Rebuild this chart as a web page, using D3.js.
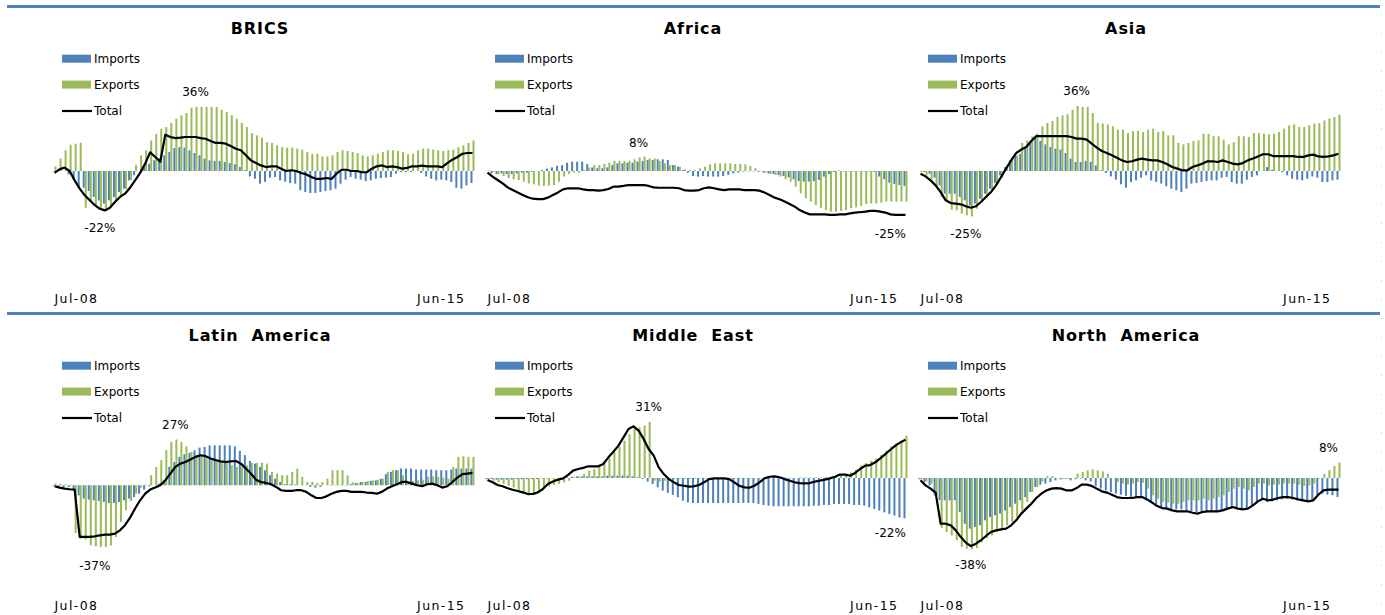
<!DOCTYPE html>
<html>
<head>
<meta charset="utf-8">
<script src="https://cdn.jsdelivr.net/npm/d3@7"></script>
<style>
  body { margin: 0; background: #fff; }
  svg { display: block; font-family: "DejaVu Sans", sans-serif; }
</style>
</head>
<body>
<svg width="1385" height="615"></svg>
<script>
// monthly categories, Jul-08 .. Jun-15 (84 months)
var months = d3.timeMonths(new Date(2008, 6, 1), new Date(2015, 6, 1));
var tickLabels = ["Jul-08", "Jun-15"];
var seriesNames = ["Imports", "Exports", "Total"];

// values in %
var bricsImports = [-0.3, 0, 0, -1.9, -4.8, -9.3, -9.3, -11.1, -14.4, -16.3, -18.1, -16.3,
  -14.4, -11.7, -9.8, -5.2, -2.4, 0, 2, 4, 6, 7, 8.7, 10.6,
  12.8, 13.3, 13, 11.5, 10, 8.7, 6.9, 5.9, 5.6, 5.6, 5, 4.4,
  3.7, 2.2, 0.5, -3, -4.3, -7, -6, -3.7, -3.3, -5.2, -6, -6.7,
  -7, -10.7, -11.7, -12.2, -12.2, -11.7, -11.1, -10.7, -9.8, -7, -4.8, -3.3,
  -4.3, -4.8, -5.6, -5.2, -4.3, -3.9, -3.7, -3.3, -1.5, -0.6, -0.6, -0.6,
  0, -1.1, -3, -4.3, -5.2, -4.8, -5.2, -6.1, -9.3, -9.8, -8, -6.7];
var bricsExports = [2.6, 6.9, 11.5, 14.6, 15.2, 15.7, -20.4, -17, -19, -21, -21.5, -20,
  -17, -14, -10, -5, 3.5, 8.7, 11.5, 17, 20.7, 23.5, 24.4, 26.7,
  29, 31, 32.2, 35.2, 35.6, 35.6, 35.6, 35.6, 35.6, 34, 32.8, 31,
  29, 26.7, 24.4, 21, 19.8, 18.5, 16, 15.6, 14.3, 13.3, 13, 13,
  12.4, 11.9, 10.6, 9.6, 9.6, 8.1, 8.1, 8.7, 10.6, 11.5, 11.1, 10.6,
  10, 8.7, 8.1, 8.7, 9.6, 10.6, 11.5, 11.5, 11.1, 10.6, 9.3, 9.6,
  11.5, 12.4, 12.4, 11.9, 11.5, 11.1, 11.5, 11.9, 13.3, 14.3, 15.6, 17];
var bricsTotal = [-1.1, 0.9, 1.9, 0, -5.2, -9.8, -13.5, -16.3, -19, -21, -21.9, -20.4,
  -17.2, -14.4, -12.6, -9.3, -5.2, -1.1, 4.1, 10.4, 7.8, 5.2, 20.2, 18.9,
  18.3, 18.5, 18.9, 18.9, 18.9, 18.3, 17.9, 16.7, 15.6, 15.6, 15.2, 13.9,
  12.4, 11.5, 8.7, 5.9, 4.4, 3.1, 2.2, 2.6, 2.6, 1.3, 0, 0.4,
  0, -1.1, -1.9, -3.3, -4.4, -4.4, -3.9, -4.4, -1.5, 0.7, 0.7, 0,
  0, -0.6, -0.7, 1.3, 2.6, 3.1, 2.2, 2.6, 2.2, 1.3, 1.7, 2.6,
  2.6, 3, 2.6, 2.6, 2.6, 2.2, 4.4, 6.3, 7.8, 9.6, 10, 10];

var africaImports = [0, -1.3, -1.7, -1.3, -1.7, -1.7, -1.3, -0.9, -0.9, -0.5, 0, 0.5,
  1.3, 2, 2.8, 3.3, 4.6, 5.2, 5.2, 5.2, 3.9, 1.9, 1.5, 1.5,
  2, 3.3, 4.3, 4.3, 4.6, 4.6, 5.2, 5.6, 6.1, 6.1, 6.5, 6.5,
  6.1, 3.3, 2.4, 0.6, -0.9, -2.8, -3.1, -2.8, -3.1, -3.1, -3.1, -2.8,
  -2.2, -1.3, -0.9, -0.4, -0.2, -0.2, -0.5, -0.9, -1.3, -1.7, -2.2, -2.8,
  -3.5, -4.6, -5.6, -5.9, -5.9, -5.6, -5, -3.1, -1.7, -0.5, 0.2, -0.2,
  -0.2, -0.2, -0.2, -0.2, -0.2, -0.5, -3.1, -4.6, -6.5, -7.2, -7.8, -8.3];
var africaExports = [0.3, -0.5, -1.7, -2.8, -4, -4.6, -5, -5.9, -6.9, -7.4, -8.1, -8.3,
  -8.1, -7.8, -5.9, -3.1, -1.7, -0.9, -0.9, 0.6, 2, 3.3, 3.3, 3.9,
  4.6, 5.6, 5.6, 5.6, 5.7, 6.5, 7.6, 8, 7, 7, 5.6, 4.3,
  3.3, 3.3, 2.4, 0.9, 0.6, 0.6, 1.5, 2.4, 3.7, 4.3, 4.3, 4.3,
  4.3, 3.9, 3.9, 3.7, 2.8, 1.5, 0.2, -0.9, -1.7, -2.2, -3.1, -4.6,
  -5.9, -8.7, -12.4, -15.2, -17, -18.9, -20.7, -21.7, -22.6, -22.6, -22.2, -21.7,
  -20.7, -20.2, -19.4, -18.3, -18, -18, -17.6, -17, -17, -17, -17, -17];
var africaTotal = [-0.9, -3.1, -5, -6.9, -9.1, -10.6, -12, -13.3, -14.6, -15.4, -15.6, -15.6,
  -14.8, -13.3, -11.9, -10.2, -9.6, -9.6, -9.6, -10.2, -10.6, -10.6, -10.9, -10.6,
  -10, -8.7, -8.7, -8.3, -7.8, -7.8, -7.8, -7.8, -8.3, -9.1, -9.3, -9.3,
  -9.3, -9.3, -9.6, -10.6, -10.9, -10.9, -10.6, -9.6, -9.1, -9.6, -10.2, -10.6,
  -10.2, -10.2, -10.2, -10.6, -10.6, -10.6, -10.9, -12, -13.3, -14.8, -15.7, -17,
  -18.3, -19.8, -21.7, -23.1, -24.1, -24.1, -24.1, -24.1, -24.4, -24.4, -24.1, -24.1,
  -23.5, -23.1, -22.9, -22.6, -22.2, -22.2, -22.6, -23.1, -24.1, -24.4, -24.4, -24.4];

var asiaImports = [0, -0.6, -1.5, -3.7, -8, -12.6, -12.6, -12.6, -14.4, -16.3, -19.1, -18.1,
  -15.4, -12.6, -9.8, -6.7, -2.4, 2.2, 5.9, 9.3, 9.6, 12.4, 15.2, 18.9,
  16.7, 14.8, 13.3, 12.4, 11.9, 10, 6.9, 5, 5, 5.6, 5, 3.1,
  0.4, -1.1, -3, -4.8, -7.4, -9.3, -6.1, -5.2, -3.7, -2.4, -5.2, -6.1,
  -7, -8.5, -9.8, -10.7, -11.7, -9.8, -7, -6.7, -6.1, -5.6, -5.2, -5.2,
  -3.7, -3.3, -6.1, -7, -7, -4.8, -3.3, -2.4, 0, 2.2, 0.7, 0,
  -0.6, -2.4, -4.3, -4.8, -5.2, -4.3, -3, -3.7, -6.1, -6.1, -5.2, -4.8];
var asiaExports = [-0.6, -2.4, -4.8, -9.3, -14.4, -17.2, -21.5, -21.9, -23.7, -24.6, -25.2, -20.9,
  -17.2, -14.4, -10.7, -7.4, -3.7, 1.3, 6.9, 8.7, 15.6, 17, 19.3, 20.7,
  24.8, 26.7, 27.8, 30, 30.9, 31.5, 34, 36.1, 35.6, 35.6, 32.2, 26.7,
  26.3, 25.9, 24.8, 23, 23, 21.1, 22.2, 22.2, 21.7, 23, 23.5, 21.7,
  22.2, 19.8, 19.8, 15.6, 14.8, 15.6, 16.7, 17, 20.7, 20.7, 19.3, 19.3,
  17.4, 14.8, 16.1, 19.3, 19.3, 18.9, 21.1, 21.1, 20.7, 20.4, 20.7, 21.7,
  23.5, 25.4, 25.9, 24.4, 24.4, 25.4, 26.3, 26.7, 28.1, 29.1, 30, 31.3];
var asiaTotal = [-1.5, -3, -5.2, -8, -11.7, -16.3, -17.8, -18.1, -18.5, -19.6, -20.4, -19.6,
  -17.2, -14.4, -11.7, -8, -3.3, 1.3, 5.9, 10, 11.9, 13.3, 16.7, 19.4,
  19.4, 19.4, 19.4, 19.4, 19.4, 19.4, 18.9, 18, 18, 17.4, 15.2, 13,
  11.1, 10, 8.7, 7.4, 5.9, 5, 5.4, 6.3, 6.9, 6.3, 5.9, 5.9,
  5, 3.7, 2.2, 1.3, 0.4, 0.4, 2.2, 3.1, 4.1, 5.4, 5.4, 5,
  5.9, 5, 4.1, 3.7, 4.4, 5.9, 6.9, 8.1, 9.3, 9.3, 8.3, 8.3,
  8.3, 8.3, 8.3, 7.8, 7.8, 8.7, 9.1, 8.1, 7.8, 8.1, 8.7, 9.6];

var latamImports = [-0.4, -1, -1.4, -1, -3, -6.1, -8.1, -8.7, -9.1, -9.5, -10.1, -10.7,
  -10.7, -10.1, -9.1, -8.1, -7.1, -5.1, -2.6, -0.6, 0, 1, 3, 11.1,
  14.1, 17.2, 18.8, 19.6, 21.2, 22.8, 23.2, 24.2, 24.2, 24.2, 24.2, 24.2,
  23.6, 20.8, 18.2, 14.7, 13.1, 11.1, 9.1, 6.1, 4, 2, 0.6, 0.6,
  0.4, 0, 0, -1, -1.4, -1, 0, 0.2, 0.2, 0.2, 0.2, 0.6,
  1.4, 2, 2, 2.6, 3, 4, 6.7, 8.1, 9.1, 10.1, 10.1, 10.1,
  9.5, 9.5, 9.5, 9.5, 9.1, 9.1, 9.1, 9.5, 10.1, 10.1, 10.1, 10.1];
var latamExports = [1, 1, 0.6, 0.4, -28.9, -32.3, -32.9, -36.4, -37, -37.4, -37.4, -36.4,
  -31.3, -22.2, -15.2, -9.5, -5.1, -1.4, 0.4, 6.1, 11.1, 15.2, 21.2, 26.3,
  27.7, 26.3, 23.6, 20.2, 18.2, 18.2, 16.2, 15.2, 14.1, 14.1, 13.5, 12.1,
  11.1, 11.1, 12.1, 13.5, 13.5, 13.7, 13.1, 8.1, 7.1, 6.1, 6.1, 8.1,
  10.1, 5.1, 2, 2, 1.4, 2, 4, 9.1, 9.1, 9.1, 6.1, 2,
  1.4, 2, 2.6, 3, 3.4, 4, 8.1, 9.1, 9.1, 6.1, 2, 2.6,
  3, 3.4, 5.1, 5.5, 5.1, 4.6, 4, 11.1, 17.2, 17.6, 17.2, 17.2];
var latamTotal = [-0.6, -1.4, -2, -2.4, -2.6, -31.3, -31.3, -31.3, -30.9, -30.3, -29.9, -29.9,
  -29.3, -27.3, -24.2, -19.6, -14.1, -9.1, -5.1, -2.6, -1.4, 0, 3, 7.1,
  11.1, 13.1, 14.1, 15.6, 17.2, 18.2, 17.6, 16.2, 15.2, 14.5, 14.1, 14.5,
  14.7, 13.1, 10.1, 7.1, 3.4, 2, 1.4, 0.6, -1, -3, -3.4, -3.4,
  -3, -3, -4, -6.1, -7.7, -7.7, -6.7, -5.1, -4, -3.4, -3.4, -4,
  -4, -4, -4.4, -4.6, -5.1, -4, -2, -0.6, 0.6, 2, 2, 1,
  0, -0.6, 0.6, 1, 0, -1.4, -0.6, 2, 4.6, 6.7, 7.1, 7.5];

var meImports = [-0.6, -0.6, -0.9, -0.9, -0.9, -0.9, -0.6, -0.6, -0.6, -0.6, -0.6, -0.2,
  -0.2, 0, 0, 0, 0.4, 0.7, 0.9, 0.9, 0.9, 0.9, 0.9, 0.9,
  1.3, 1.3, 1.3, 1.3, 1.3, 0.9, 0.4, -0.6, -2, -3.3, -5.2, -7,
  -8.3, -9.4, -10.7, -12.6, -13.5, -13.9, -13.9, -13.9, -13.9, -13.9, -13.9, -13.9,
  -13.9, -13.9, -13.9, -13.9, -13.9, -13.9, -14.4, -15, -15.4, -15.7, -15.7, -15.7,
  -15.7, -15.7, -15.7, -15.7, -15.7, -15.4, -15.4, -15, -15, -14.4, -14.4, -14.4,
  -14.4, -15, -15, -15.4, -16.3, -17.2, -18.1, -19.1, -20, -20.9, -21.9, -22.4];
var meExports = [-0.6, -1.5, -2.4, -3.3, -4.3, -5.2, -7, -8.3, -9.8, -9.4, -7.6, -5.7,
  -4.6, -3.9, -3.3, -2.4, -1.5, 0.4, 0.9, 2.2, 4.1, 5, 6.9, 9.1,
  10.9, 14.3, 17.6, 20.7, 24.4, 27.2, 28.1, 29.1, 31.3, -1.5, -2, -1.5,
  -0.6, -0.4, -0.4, -0.5, -0.5, -0.4, -0.3, -0.3, -0.3, -0.4, -0.4, -0.5,
  -0.4, -0.3, -0.3, -0.4, -0.4, -0.3, -0.2, 0, 0.2, 0.3, 0.3, 0.3,
  0.2, 0.2, 0.3, 0.3, 0.3, 0.4, 0.4, 0.5, 0.6, 0.8, 1.3, 1.7,
  3.1, 4.6, 6.9, 8.3, 9.6, 10.9, 12.8, 15.2, 17.6, 19.4, 20.7, 23.5];
var meTotal = [-1.1, -2.4, -3.9, -4.6, -5.7, -6.5, -7.2, -8, -8.9, -8.9, -8, -6.1,
  -3.3, -2, -0.9, -0.2, 1.7, 4.1, 5, 5.6, 6.5, 6.5, 6.5, 7.8,
  11.5, 14.6, 18, 22.6, 27.2, 28.7, 26.3, 21.7, 16.1, 12.4, 5.9, 2.2,
  -0.6, -2.4, -3.9, -4.3, -4.8, -4.6, -3.9, -2.4, -0.6, -0.2, -0.2, -0.2,
  -0.6, -2.4, -4.3, -5.2, -5.4, -4.3, -2.4, -0.2, 0.7, 0.9, 0.4, -0.6,
  -1.5, -2.4, -2.8, -3, -2.8, -2, -1.5, -0.9, -0.2, 0.7, 1.9, 1.9,
  1.3, 2.8, 5, 6.9, 7.2, 8.7, 10.9, 13.3, 15.7, 18, 19.8, 21.3];

var naImports = [-0.7, -2.2, -4.1, -9.6, -12.4, -12.4, -12.4, -12.4, -18.9, -25.4, -28.1, -27.2,
  -26.3, -23.5, -21.7, -20.7, -19.8, -18, -16.1, -14.3, -12.4, -10.6, -7.8, -5,
  -3.7, -3.1, -2.2, -1.3, -0.7, -0.4, -1.3, -0.7, -0.4, -1.3, -1.9, -4.4,
  -5.9, -6.9, -7.8, -8.7, -9.3, -10, -10.6, -11.1, -11.1, -12.4, -13.7, -15.2,
  -16.1, -16.7, -17, -17.4, -17.4, -18, -18.5, -18.9, -18.5, -18.5, -18.5, -18.5,
  -18, -17.4, -17, -16.7, -17, -16.7, -15.2, -13, -12.4, -13.3, -13, -12.4,
  -11.9, -11.5, -11.9, -12.4, -13, -12.4, -11.9, -10, -8.7, -9.3, -9.6, -10.6];
var naExports = [-0.7, -1.9, -3.1, -9.6, -27.8, -30, -31.9, -34.6, -38.3, -39.3, -39.6, -38.9,
  -35.6, -33.3, -31.9, -30, -28.1, -26.3, -24.4, -21.7, -18, -13.3, -7.8, -5,
  -1.9, 1.1, 1.1, 0, -0.7, -0.4, 0, 2.4, 3.3, 4.3, 4.8, 4.3,
  3.7, 2.4, 0, -2.2, -3.1, -3.7, -3.1, -2.2, -2.6, -5.9, -9.6, -11.5,
  -13.3, -13.7, -14.3, -14.3, -13.3, -12.4, -12.4, -12.4, -11.5, -12.4, -11.5, -10.6,
  -9.6, -7.8, -5.9, -5, -5.9, -6.9, -5, -3.1, -3.1, -4.1, -3.7, -3.7,
  -3.1, -3.1, -3.1, -3.7, -4.4, -4.1, -3.1, -0.4, 2.4, 4.3, 6.7, 8.5];
var naTotal = [-1.3, -4.1, -5.9, -8.1, -25.4, -25.4, -26.3, -29.1, -32.8, -35.9, -37.8, -36.5,
  -34.6, -32.2, -30, -29.1, -28.5, -28.1, -26.3, -23.5, -19.8, -17, -14.3, -11.1,
  -8.7, -6.9, -5.9, -5.6, -5.9, -6.9, -6.9, -5.6, -3.7, -3.7, -4.4, -5.9,
  -7.4, -8.1, -9.3, -10.6, -11.1, -11.1, -11.1, -10.6, -10.6, -11.9, -13.7, -15.6,
  -16.7, -17, -18, -18.5, -18.5, -18.5, -19.3, -19.8, -18.9, -18.5, -18.5, -18.5,
  -18, -17, -16.1, -17, -17.4, -17, -15.2, -13, -11.5, -12.4, -12, -11.1,
  -10.6, -10.6, -11.1, -11.9, -12.4, -13, -12.4, -9.3, -6.9, -6.5, -6.5, -6.5];

var panels = [
  {title: "BRICS", imports: bricsImports, exports: bricsExports, total: bricsTotal, yDomain: [-60, 40],
   notes: [{text: "36%", i: 28, s: "exports", pos: "above"}, {text: "-22%", i: 9, s: "total", pos: "below"}]},
  {title: "Africa", imports: africaImports, exports: africaExports, total: africaTotal, yDomain: [-60, 40],
   notes: [{text: "8%", i: 30, s: "exports", pos: "above"}, {text: "-25%", i: 80, s: "total", pos: "below"}]},
  {title: "Asia", imports: asiaImports, exports: asiaExports, total: asiaTotal, yDomain: [-60, 40],
   notes: [{text: "36%", i: 31, s: "exports", pos: "above"}, {text: "-25%", i: 9, s: "exports", pos: "below"}]},
  {title: "Latin  America", imports: latamImports, exports: latamExports, total: latamTotal, yDomain: [-61, 48],
   notes: [{text: "27%", i: 24, s: "exports", pos: "above"}, {text: "-37%", i: 8, s: "exports", pos: "below"}]},
  {title: "Middle  East", imports: meImports, exports: meExports, total: meTotal, yDomain: [-60, 40],
   notes: [{text: "31%", i: 32, s: "exports", pos: "above"}, {text: "-22%", i: 80, s: "imports", pos: "below"}]},
  {title: "North  America", imports: naImports, exports: naExports, total: naTotal, yDomain: [-60, 40],
   notes: [{text: "8%", i: 83, s: "exports", pos: "above", dx: -10}, {text: "-38%", i: 10, s: "total", pos: "below"}]}
];

var colours = {imports: "#4f81bd", exports: "#9bbb59", total: "#000"};

var svg = d3.select("svg");
var colLeft = [52, 485, 918],
  rowOffset = [0, 307],
  plotWidth = 423;

// blue separators
svg.selectAll("line.sep")
  .data(rowOffset)
  .enter().append("line")
  .attr("class", "sep")
  .attr("x1", 7).attr("x2", 1380)
  .attr("y1", function(d) { return 6.5 + d; })
  .attr("y2", function(d) { return 6.5 + d; })
  .attr("stroke", "#4f81bd")
  .attr("stroke-width", 3);

// faint dotted edge on the right
svg.append("line")
  .attr("x1", 1381.5).attr("x2", 1381.5)
  .attr("y1", 14).attr("y2", 612)
  .attr("stroke", "#c8c8c8")
  .attr("stroke-dasharray", "1,18");

panels.forEach(function(p, k) {
  var left = colLeft[k % 3],
    off = rowOffset[Math.floor(k / 3)];

  var x = d3.scaleBand()
    .domain(d3.range(months.length))
    .range([left, left + plotWidth])
    .paddingInner(0.2)
    .paddingOuter(0.1);
  var x1 = d3.scaleBand()
    .domain(["imports", "exports"])
    .range([0, x.bandwidth()]);
  var y = d3.scaleLinear()
    .domain(p.yDomain)
    .range([279 + off, 99 + off]);

  var g = svg.append("g").attr("class", "panel");

  ["imports", "exports"].forEach(function(key) {
    g.append("g").selectAll("rect")
      .data(p[key])
      .enter().append("rect")
      .attr("x", function(d, i) { return x(i) + x1(key); })
      .attr("width", x1.bandwidth())
      .attr("y", function(d) { return y(Math.max(0, d)); })
      .attr("height", function(d) { return Math.abs(y(d) - y(0)); })
      .attr("fill", colours[key]);
  });

  var line = d3.line()
    .x(function(d, i) { return x(i) + x.bandwidth() / 2; })
    .y(function(d) { return y(d); });

  g.append("path")
    .datum(p.total)
    .attr("d", line)
    .attr("fill", "none")
    .attr("stroke", colours.total)
    .attr("stroke-width", 2.2)
    .attr("stroke-linejoin", "round");

  // title
  g.append("text")
    .attr("x", left + 208)
    .attr("y", 28 + off)
    .attr("dy", "0.35em")
    .attr("text-anchor", "middle")
    .attr("font-weight", "bold")
    .attr("font-size", 16)
    .attr("letter-spacing", 0.9)
    .style("white-space", "pre")
    .text(p.title);

  // legend
  var legendY = [58.7, 84.6, 111];
  var items = g.append("g").selectAll("g")
    .data(seriesNames)
    .enter().append("g")
    .attr("transform", function(d, i) { return "translate(" + (left + 10) + "," + (legendY[i] + off) + ")"; });

  items.filter(function(d, i) { return i < 2; })
    .append("rect")
    .attr("x", 0).attr("y", -4)
    .attr("width", 29).attr("height", 8)
    .attr("fill", function(d, i) { return i === 0 ? colours.imports : colours.exports; });

  items.filter(function(d, i) { return i === 2; })
    .append("line")
    .attr("x1", 0).attr("x2", 30)
    .attr("stroke", colours.total)
    .attr("stroke-width", 2.2);

  items.append("text")
    .attr("x", 32)
    .attr("dy", "0.35em")
    .attr("font-size", 12)
    .text(function(d) { return d; });

  // annotations
  g.append("g").selectAll("text")
    .data(p.notes)
    .enter().append("text")
    .attr("x", function(d) { return x(d.i) + x.bandwidth() / 2 + (d.dx || 0); })
    .attr("y", function(d) { return y(p[d.s][d.i]) + (d.pos === "above" ? -15 : 19); })
    .attr("dy", "0.35em")
    .attr("text-anchor", "middle")
    .attr("font-size", 12)
    .text(function(d) { return d.text; });

  // category axis, first and last month only
  var axis = d3.axisBottom(x)
    .tickValues([0, months.length - 1])
    .tickFormat(function(d, i) { return tickLabels[i]; })
    .tickSize(0);

  var ax = g.append("g")
    .attr("transform", "translate(0," + (299 + off) + ")")
    .call(axis);
  ax.select(".domain").remove();
  ax.selectAll("text")
    .attr("y", 0)
    .attr("dy", "0.35em")
    .attr("font-family", "DejaVu Sans")
    .attr("font-size", 12.5)
    .attr("letter-spacing", 1.4)
    .attr("fill", "#000")
    .attr("text-anchor", function(d, i) { return i === 0 ? "start" : "end"; })
    .attr("dx", function(d, i) { return i === 0 ? 0 : -7; });
});
</script>
</body>
</html>
